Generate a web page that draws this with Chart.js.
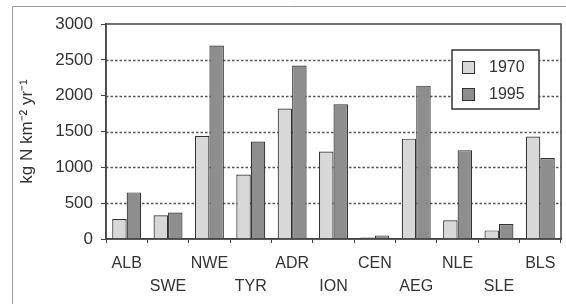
<!DOCTYPE html>
<html>
<head>
<meta charset="utf-8">
<script src="https://cdn.jsdelivr.net/npm/chart.js@4/dist/chart.umd.min.js"></script>
<style>
  html, body { margin: 0; padding: 0; background: #fff; }
  #wrap { width: 566px; height: 304px; position: relative; }
</style>
</head>
<body>
<div id="wrap"><canvas id="chart" width="566" height="304"></canvas></div>
<script>
// regions, alternating label rows like the original
const regions = ['ALB', 'SWE', 'NWE', 'TYR', 'ADR', 'ION', 'CEN', 'AEG', 'NLE', 'SLE', 'BLS'];
const years = ['1970', '1995'];
const values1970 = [280, 330, 1440, 900, 1820, 1220, 20, 1400, 260, 120, 1430];
const values1995 = [650, 370, 2700, 1360, 2420, 1880, 50, 2140, 1240, 210, 1130];
const yTicks = [0, 500, 1000, 1500, 2000, 2500, 3000];

const FONT = 'Liberation Sans, Arial, sans-serif';

// two-row labels: odd positions sit on the upper row, even on the lower row
const labels = regions.map((r, i) => i % 2 === 0 ? [r, ''] : ['', r]);

// frame around the whole figure, dotted grid, box round the plot, legend inside
const decor = {
  id: 'decor',
  beforeDraw(chart) {
    const ctx = chart.ctx;
    ctx.save();
    ctx.strokeStyle = '#9a9a9a';
    ctx.lineWidth = 1;
    ctx.beginPath();
    ctx.moveTo(12.5, 304);
    ctx.lineTo(12.5, 6.5);
    ctx.lineTo(566, 6.5);
    ctx.stroke();
    ctx.restore();
  },
  beforeDatasetsDraw(chart) {
    const { ctx, chartArea: a, scales: { y } } = chart;
    ctx.save();
    ctx.strokeStyle = '#555';
    ctx.lineWidth = 1.6;
    ctx.setLineDash([2.5, 2]);
    yTicks.forEach(v => {
      if (v === 0 || v === 3000) return;
      const py = Math.round(y.getPixelForValue(v)) + 0.5;
      ctx.beginPath();
      ctx.moveTo(a.left, py);
      ctx.lineTo(a.right, py);
      ctx.stroke();
    });
    ctx.restore();
  },
  afterDraw(chart) {
    const { ctx, chartArea: a } = chart;
    ctx.save();
    ctx.strokeStyle = '#444';
    ctx.lineWidth = 1.5;
    ctx.strokeRect(a.left, a.top, a.right - a.left, a.bottom - a.top);

    // legend
    const lx = 452, ly = 50, lw = 87, lh = 59;
    ctx.fillStyle = '#fff';
    ctx.fillRect(lx, ly, lw, lh);
    ctx.strokeStyle = '#333';
    ctx.lineWidth = 1.5;
    ctx.strokeRect(lx, ly, lw, lh);
    ctx.font = '16px ' + FONT;
    ctx.textBaseline = 'middle';
    chart.data.datasets.forEach((ds, i) => {
      const y = ly + 17 + i * 27;
      ctx.fillStyle = ds.backgroundColor;
      ctx.fillRect(lx + 10, y - 6, 12, 12);
      ctx.strokeStyle = '#333';
      ctx.lineWidth = 1;
      ctx.strokeRect(lx + 10.5, y - 5.5, 12, 12);
      ctx.fillStyle = '#333';
      ctx.fillText(ds.label, lx + 37, y + 1);
    });
    ctx.restore();
  }
};

new Chart(document.getElementById('chart').getContext('2d'), {
  type: 'bar',
  data: {
    labels: labels,
    datasets: [
      {
        label: years[0],
        data: values1970,
        backgroundColor: '#d8d8d8',
        borderColor: '#333',
        borderWidth: 1.2,
        categoryPercentage: 0.7,
        barPercentage: 1.0
      },
      {
        label: years[1],
        data: values1995,
        backgroundColor: '#8e8e8e',
        borderColor: '#333',
        borderWidth: 1.2,
        categoryPercentage: 0.7,
        barPercentage: 1.0
      }
    ]
  },
  options: {
    responsive: false,
    animation: false,
    layout: { padding: { left: 14, right: 5, top: 24, bottom: 0 } },
    plugins: {
      legend: { display: false },
      tooltip: { enabled: false }
    },
    scales: {
      x: {
        afterFit(scale) { scale.height = 65; },
        grid: {
          offset: true,
          drawOnChartArea: false,
          drawTicks: true,
          tickLength: 4,
          color: '#444'
        },
        border: { color: '#444', width: 1.5 },
        ticks: {
          color: '#333',
          padding: 10,
          autoSkip: false,
          maxRotation: 0,
          font: { family: FONT, size: 16, lineHeight: 1.38 }
        }
      },
      y: {
        min: 0,
        max: 3000,
        afterFit(scale) { scale.width = 92; },
        afterBuildTicks(scale) { scale.ticks = yTicks.map(v => ({ value: v })); },
        grid: {
          drawOnChartArea: false,
          drawTicks: true,
          tickLength: 5,
          color: '#444'
        },
        border: { color: '#444', width: 1.5 },
        ticks: {
          color: '#333',
          padding: 8,
          font: { family: FONT, size: 17 },
          callback: v => String(v)
        },
        title: {
          display: true,
          text: 'kg N km\u207B\u00B2 yr\u207B\u00B9',
          color: '#333',
          font: { family: FONT, size: 17 },
          padding: { top: 3, bottom: 2 }
        }
      }
    }
  },
  plugins: [decor]
});
</script>
</body>
</html>
